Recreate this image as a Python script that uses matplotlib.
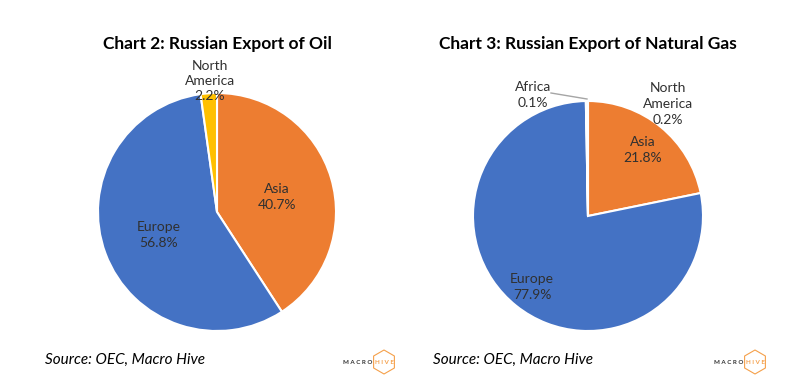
import matplotlib.pyplot as plt
from matplotlib.patches import RegularPolygon

plt.rcParams['font.family'] = ['Lato', 'DejaVu Sans']

# chart 2: oil
oil_labels = ['Asia', 'Europe', 'North\nAmerica']
oil_values = [40.7, 56.8, 2.2]
oil_colors = ['#ED7D31', '#4472C4', '#FFC000']

# chart 3: natural gas
gas_labels = ['Asia', 'Europe', 'Africa', 'North\nAmerica']
gas_values = [21.8, 77.9, 0.1, 0.2]
gas_colors = ['#ED7D31', '#4472C4', '#A5A5A5', '#FFC000']

W, H = 804, 384
fig = plt.figure(figsize=(W / 100, H / 100), dpi=100)
ax = fig.add_axes([0, 0, 1, 1])
ax.set_xlim(0, W)
ax.set_ylim(0, H)
ax.set_aspect('equal')
ax.axis('off')


def py(y):
    # pixel row -> data y
    return H - y


wp = dict(edgecolor='white', linewidth=1.5)
ax.pie(oil_values, colors=oil_colors, startangle=90, counterclock=False,
       center=(217, py(212)), radius=119, wedgeprops=wp)
ax.pie(gas_values, colors=gas_colors, startangle=90, counterclock=False,
       center=(588, py(216)), radius=115, wedgeprops=wp)

ax.set_xlim(0, W)
ax.set_ylim(0, H)

tc = '#303030'
fs = 10
ls = 1.35
# oil labels
oil_pos = [(277, 197), (159, 235), (210, 81)]
for lab, v, (x, y) in zip(oil_labels, oil_values, oil_pos):
    ax.text(x, py(y), f'{lab}\n{v}%', ha='center', va='center', fontsize=fs,
            color=tc, linespacing=ls)

# gas labels
gas_pos = [(643, 150), (532, 287), (533, 95), (668, 104)]
for lab, v, (x, y) in zip(gas_labels, gas_values, gas_pos):
    ax.text(x, py(y), f'{lab}\n{v}%', ha='center', va='center', fontsize=fs,
            color=tc, linespacing=ls)
ax.plot([551, 587], [py(93), py(99)], color='#A5A5A5', lw=1)

# titles
ax.text(217, py(44), 'Chart 2: Russian Export of Oil', ha='center', va='center',
        fontsize=12.5, fontweight='bold', color='black')
ax.text(588, py(44), 'Chart 3: Russian Export of Natural Gas', ha='center', va='center',
        fontsize=12.5, fontweight='bold', color='black')

# source
for x in [45, 433]:
    ax.text(x, py(360), 'Source: OEC, Macro Hive', ha='left', va='center',
            fontsize=11, style='italic', color='black')

# logos
for x in [372, 743]:
    ax.text(x, py(362), 'M A C R O', ha='right', va='center', fontsize=4.5,
            color='#333333', fontweight='bold')
    ax.text(x + 12, py(362), 'H I V E', ha='center', va='center', fontsize=4.5,
            color='#F5A04A', fontweight='bold')
    ax.add_patch(RegularPolygon((x + 12, py(362)), 6, radius=12, orientation=0,
                                fill=False, edgecolor='#F5A04A', lw=0.8))

fig.savefig('out.png', dpi=100)
